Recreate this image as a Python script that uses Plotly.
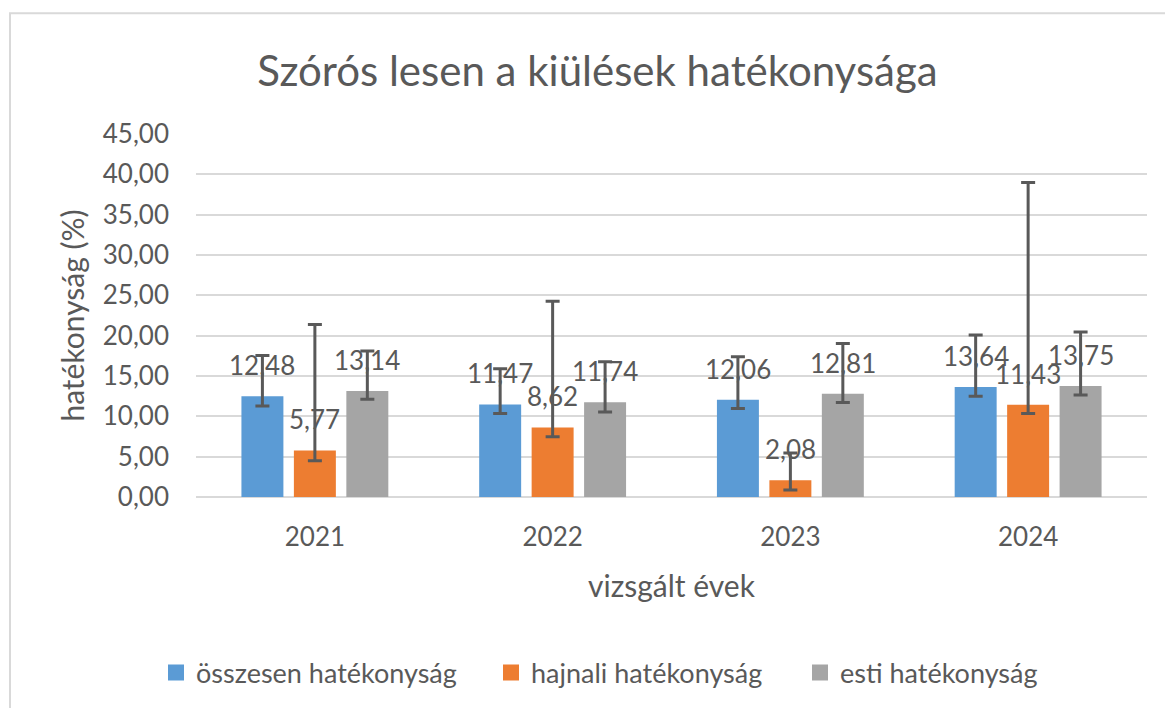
import plotly.graph_objects as go

years = ["2021", "2022", "2023", "2024"]
series_names = ["összesen hatékonyság", "hajnali hatékonyság", "esti hatékonyság"]
colors = ["#5B9BD5", "#ED7D31", "#A5A5A5"]

osszesen = [12.48, 11.47, 12.06, 13.64]
hajnali = [5.77, 8.62, 2.08, 11.43]
esti = [13.14, 11.74, 12.81, 13.75]

# error bar ends
osszesen_hi = [17.55, 15.91, 17.39, 20.07]
osszesen_lo = [11.29, 10.35, 10.96, 12.49]
hajnali_hi = [21.39, 24.27, 5.44, 38.98]
hajnali_lo = [4.49, 7.46, 0.87, 10.35]
esti_hi = [18.09, 16.77, 19.04, 20.44]
esti_lo = [12.11, 10.55, 11.70, 12.65]

values = [osszesen, hajnali, esti]
highs = [osszesen_hi, hajnali_hi, esti_hi]
lows = [osszesen_lo, hajnali_lo, esti_lo]

FONT = "Lato"
GREY = "#595959"

# page offset (body margin of the html page)
OFF = 8
W, H = 1173 - OFF, 708 - OFF
L, R, T, B = 196 - OFF, 26, 134 - OFF, 210
pw, ph = W - L - R, H - T - B
PX0, PY1 = L + OFF, T + OFF  # page pixel of plot-area left / top


def px_x(p):
    return (p - PX0) / pw


def px_y(p):
    return (PY1 + ph - p) / ph


fig = go.Figure()
legend_names = ["legend", "legend2", "legend3"]
for name, col, v, hi, lo in zip(series_names, colors, values, highs, lows):
    fig.add_trace(go.Bar(
        x=years, y=v, name=name, marker_color=col, marker_line_width=0, showlegend=False,
        error_y=dict(type="data", symmetric=False,
                     array=[h - a for h, a in zip(hi, v)],
                     arrayminus=[a - l for a, l in zip(v, lo)],
                     color=GREY, thickness=3, width=7),
    ))
for name, col, lg in zip(series_names, colors, legend_names):
    fig.add_trace(go.Scatter(
        x=[None], y=[None], mode="markers", name=name, legend=lg,
        marker=dict(symbol="square", size=16, color=col), showlegend=True,
    ))

# data labels (category index used as x on the category axis)
shifts = [-52.5, 0, 52.5]
for v, xs in zip(values, shifts):
    for i, val in enumerate(v):
        fig.add_annotation(x=i, y=val, xref="x", yref="y", xshift=xs, yshift=13,
                           text=f"{val:.2f}".replace(".", ","), showarrow=False,
                           yanchor="bottom", xanchor="center",
                           font=dict(family=FONT, size=26, color=GREY))

fig.add_shape(type="rect", xref="paper", yref="paper",
              x0=px_x(10), x1=px_x(1200), y0=px_y(760), y1=px_y(13),
              line=dict(color="#D9D9D9", width=2), fillcolor="rgba(0,0,0,0)", layer="below")

leg_common = dict(orientation="v", yanchor="middle", y=px_y(673), xanchor="left",
                  font=dict(family=FONT, size=27, color=GREY), itemwidth=30,
                  bgcolor="rgba(0,0,0,0)", borderwidth=0)

fig.update_layout(
    width=W, height=H,
    margin=dict(l=L, r=R, t=T, b=B),
    separators=", ",
    paper_bgcolor="white", plot_bgcolor="white",
    barmode="group", bargap=0.338, bargroupgap=0.2,
    font=dict(family=FONT, color=GREY),
    title=dict(text="Szórós lesen a kiülések hatékonysága", x=(597.5 - OFF) / W, xanchor="center",
               y=1 - (71 - OFF) / H, yanchor="middle",
               font=dict(family=FONT, size=42, color=GREY)),
    yaxis=dict(range=[0, 45], dtick=5, tickformat=".2f", showgrid=True,
               gridcolor="#D9D9D9", gridwidth=2, zeroline=True, zerolinecolor="#D9D9D9",
               zerolinewidth=2, showline=False, ticks="", ticklabelstandoff=26,
               tickfont=dict(family=FONT, size=26, color=GREY),
               title=dict(text="hatékonyság (%)", standoff=9,
                          font=dict(family=FONT, size=30, color=GREY))),
    xaxis=dict(type="category", range=[-0.5, len(years) - 0.5], showline=False, ticks="",
               tickfont=dict(family=FONT, size=26, color=GREY),
               ticklabelstandoff=22,
               title=dict(text="vizsgált évek", standoff=24,
                          font=dict(family=FONT, size=30, color=GREY))),
    legend=dict(x=px_x(156), **leg_common),
    legend2=dict(x=px_x(491), **leg_common),
    legend3=dict(x=px_x(800), **leg_common),
)

fig.write_html("out.html")
